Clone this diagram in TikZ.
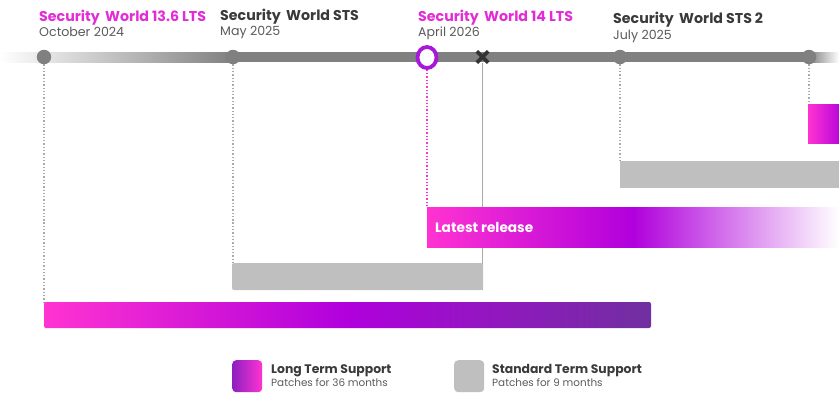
\documentclass[tikz,border=0pt]{standalone}
\usepackage{fontspec}
\setmainfont{Poppins}
\usetikzlibrary{shapes.geometric,backgrounds}

\definecolor{pinkA}{HTML}{FF33D1}
\definecolor{purpA}{HTML}{B000DC}
\definecolor{violA}{HTML}{7030A0}
\definecolor{legviol}{HTML}{8B20C0}
\definecolor{railgray}{HTML}{808080}
\definecolor{stsgray}{HTML}{BFBFBF}
\definecolor{guidegray}{HTML}{AAAAAA}
\definecolor{darktext}{HTML}{3A3A3A}
\definecolor{datetext}{HTML}{5A5A5A}
\definecolor{ltstext}{HTML}{E22CD6}
\definecolor{ringpurple}{HTML}{A818D8}
\definecolor{crossgray}{HTML}{333333}

\begin{document}
\begin{tikzpicture}[x=1bp,y=-1bp,
  title/.style={anchor=base west,inner sep=0,font=\fontsize{14.2bp}{17bp}\selectfont\bfseries},
  date/.style={anchor=base west,inner sep=0,text=datetext,font=\fontsize{12.6bp}{15bp}\selectfont},
  dot/.style={circle,fill=railgray,inner sep=0,minimum size=14.5bp},
  bar/.style={anchor=north west,rectangle,inner sep=0,outer sep=0},
  stsbar/.style={bar,fill=stsgray},
  guide/.style={draw=guidegray,line width=1.3bp,dotted},
  ltsguide/.style={draw=pinkA,line width=1.3bp,dotted},
  legbox/.style={anchor=north west,rectangle,rounded corners=4bp,inner sep=0,minimum width=30bp,minimum height=32bp},
  legtitle/.style={anchor=base west,inner sep=0,text=darktext,font=\fontsize{12.4bp}{14bp}\selectfont\bfseries},
  legsub/.style={anchor=base west,inner sep=0,text=datetext,font=\fontsize{10.4bp}{12bp}\selectfont}
]
\useasboundingbox (0,0) rectangle (839,395);

% timeline rail: fade in, solid run, fade out
\shade[left color=white,right color=railgray] (0,52) rectangle (233,62);
\fill[railgray] (233,52) rectangle (809,62);
\shade[left color=railgray,right color=white] (809,52) rectangle (839,62);

% milestones on the rail
\node[dot] (m1) at (44,57) {};
\node[dot] (m2) at (233,57) {};
\node[dot] (m4) at (620,57) {};
\node[dot] (m5) at (809,57) {};
\node[ellipse,draw=ringpurple,fill=white,line width=3.8bp,inner sep=0,
      minimum width=19bp,minimum height=21bp] (m3) at (427,57.5) {};
\node[inner sep=0,minimum size=11bp] (xm) at (482.5,57) {};
\draw[crossgray,line width=3.8bp] (xm.north west) -- (xm.south east)
      (xm.north east) -- (xm.south west);

% milestone labels
\node[title,text=ltstext] (t1) at (39,21) {Security\, World 13.6 LTS};
\node[date] (d1) at (39,36) {October 2024};
\node[title,text=darktext] (t2) at (220,20) {Security\, World STS};
\node[date] (d2) at (220,35.5) {May 2025};
\node[title,text=ltstext] (t3) at (418,21) {Security\, World 14 LTS};
\node[date] (d3) at (418,36) {April 2026};
\node[title,text=darktext] (t4) at (613,23.5) {Security\, World STS 2};
\node[date] (d4) at (613,39) {July 2025};

% support bars
\node[bar,left color=pinkA,right color=purpA!85!pinkA,minimum width=31bp,minimum height=39bp] (lts3) at (808,104) {};
\node[stsbar,minimum width=219bp,minimum height=27bp] (sts2) at (620,161) {};
\node[bar,left color=pinkA,right color=white,middle color=purpA,minimum width=412bp,minimum height=40bp] (lts2) at (427,207) {};
\node[anchor=base west,inner sep=0,text=white,font=\fontsize{13.7bp}{16bp}\selectfont\bfseries] (latest) at (435,232) {Latest release};
\node[stsbar,rounded corners=2bp,minimum width=251bp,minimum height=27bp] (sts1) at (232,263) {};
\node[bar,rounded corners=2bp,left color=pinkA,right color=violA,middle color=purpA,minimum width=607bp,minimum height=26bp] (lts1) at (44,302) {};

% guides from each milestone down to its bar, kept behind the bars
\begin{scope}[on background layer]
  \draw[guide] (m1.south) -- (m1 |- lts1.north);
  \draw[guide] (m2.south) -- (m2 |- sts1.north);
  \draw[ltsguide] (m3.south) -- (m3 |- lts2.north);
  \draw[guide] (m4.south) -- (m4 |- sts2.north);
  \draw[guide] (m5.south) -- (m5 |- lts3.north);
  \draw[guidegray,line width=1.2bp] (xm.south) -- (xm |- sts1.south);
\end{scope}

% legend
\node[legbox,left color=legviol,right color=pinkA] (legl) at (232,360) {};
\node[legtitle] (leglt) at (271,373) {Long Term Support};
\node[legsub] (legls) at (271,386) {Patches for 36 months};
\node[legbox,fill=stsgray] (legs) at (454,360) {};
\node[legtitle] (legst) at (492,373) {Standard Term Support};
\node[legsub] (legss) at (492,386) {Patches for 9 months};
\end{tikzpicture}
\end{document}
